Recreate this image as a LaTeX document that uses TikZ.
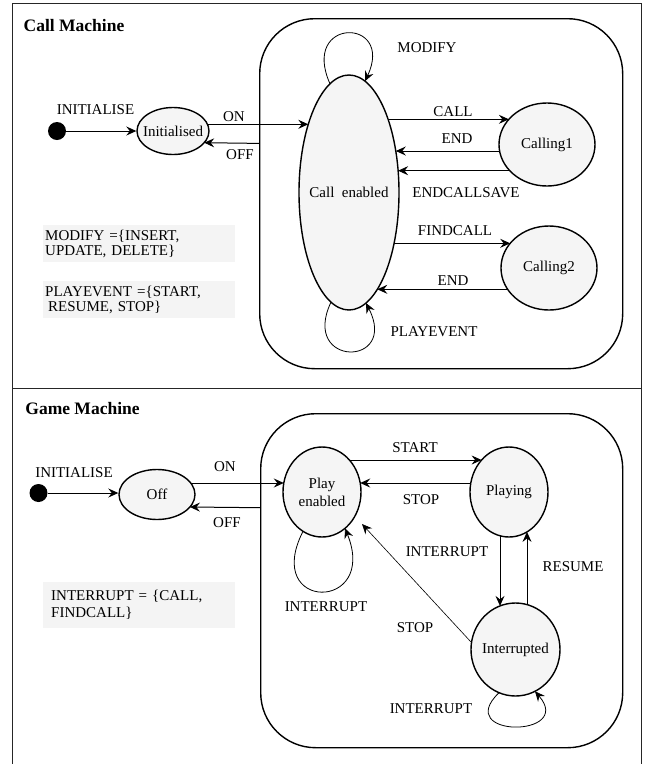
\documentclass[tikz,border=0pt]{standalone}
\usepackage{fontspec}
\setmainfont{Liberation Serif}
\usetikzlibrary{arrows.meta,calc,shapes.geometric}
\definecolor{stfill}{HTML}{F5F5F5}
\definecolor{boxfill}{HTML}{F4F4F4}
\begin{document}
\begin{tikzpicture}[x=1pt,y=-1pt,
  lbl/.style={font=\fontsize{15}{15}\selectfont, inner sep=0pt},
  ttl/.style={font=\bfseries\fontsize{17.5}{18}\selectfont, inner sep=0pt},
  state/.style={ellipse, draw, line width=1.4pt, fill=stfill, inner sep=0pt, font=\fontsize{15}{15}\selectfont},
  container/.style={draw, line width=1.4pt, rounded corners=55pt, anchor=north west, inner sep=0pt},
  initdot/.style={circle, fill=black, minimum size=18pt, inner sep=0pt},
  tr/.style={-{Stealth[length=10pt,width=9pt,inset=3.5pt]}, line width=1pt},
  thintr/.style={-{Stealth[length=10pt,width=9pt,inset=3.5pt]}, line width=0.6pt},
  loopy/.style={-{Stealth[length=10pt,width=9pt,inset=3.5pt]}, line width=0.8pt},
  defbox/.style={fill=boxfill, anchor=north west, minimum width=192pt, align=left, font=\fontsize{15}{15}\selectfont}
]
\useasboundingbox (0,0) rectangle (645,764);
% outer frame
\draw[line width=1pt, black!85] (12,764) -- (12,3) -- (641,3) -- (641,764);
\draw[line width=1pt, black!85] (12,388.5) -- (641,388.5);

% ---------- Call Machine ----------
\node[ttl] (t1) at (74,26) {Call Machine};
\node[container, minimum width=363pt, minimum height=350pt] (callbox) at (259,18) {};

\node[initdot] (dot1) at (57,131) {};
\node[state, minimum width=72pt, minimum height=47pt] (init) at (173,131) {\makebox[0pt]{Initialised}};
\node[state, minimum width=100pt, minimum height=235pt] (ce) at (349,192.5) {\makebox[0pt]{Call\ \ enabled}};
\node[state, minimum width=96pt, minimum height=83pt] (c1) at (547,144.5) {\makebox[0pt]{Calling1}};
\node[state, minimum width=96pt, minimum height=84pt] (c2) at (549,268) {\makebox[0pt]{Calling2}};

\node[defbox, minimum height=37pt, text width=188pt, inner xsep=2pt] (modbox) at (43,225) {MODIFY =\{INSERT,\\UPDATE, DELETE\}};
\node[defbox, minimum height=37pt, text width=188pt, inner xsep=2pt] (playbox) at (43,281) {PLAYEVENT =\{START,\\\hspace{3pt}RESUME, STOP\}};

\draw[tr] (dot1) -- (dot1 -| init.west);
\draw[tr] ($(init.center)+(34.5,-6.7)$) -- ($(ce.center)+(-40.7,-68.2)$);
\draw[tr] ($(callbox.west)+(0,-50.3)$) -- ($(init.center)+(31.2,11.7)$);
\draw[tr] ($(ce.center)+(39.1,-73.2)$) -- ($(c1.center)+(-38.1,-25.2)$);
\draw[tr] ($(c1.center)+(-47.4,6.5)$) -- ($(ce.center)+(46.8,-41.5)$);
\draw[tr] ($(c1.center)+(-37.2,26.2)$) -- ($(ce.center)+(49.1,-21.8)$);
\draw[tr] ($(ce.center)+(45.1,50.8)$) -- ($(c2.center)+(-38.8,-24.7)$);
\draw[tr] ($(c2.center)+(-41.4,21.3)$) -- ($(ce.center)+(28.3,96.8)$);
\draw[loopy] ($(ce.center)+(-19,-108.7)$) .. controls +(-30,-67) and +(30,-64) .. ($(ce.center)+(16,-111.3)$);
\draw[loopy] ($(ce.center)+(-18,109.6)$) .. controls +(-31,65.4) and +(33,64.5) .. ($(ce.center)+(17,110.5)$);

\node[lbl] (l1) at (95.5,110) {INITIALISE};
\node[lbl] (l2) at (234,117) {ON};
\node[lbl] (l3) at (240,155) {OFF};
\node[lbl] (l4) at (427,48) {MODIFY};
\node[lbl] (l5) at (453,112) {CALL};
\node[lbl] (l6) at (457,139) {END};
\node[lbl] (l7) at (466,193) {ENDCALLSAVE};
\node[lbl] (l8) at (455,231) {FINDCALL};
\node[lbl] (l9) at (453,281) {END};
\node[lbl] (l10) at (434,332) {PLAYEVENT};

% ---------- Game Machine ----------
\node[ttl] (t2) at (82.5,409) {Game Machine};
\node[container, minimum width=362pt, minimum height=334pt] (gamebox) at (260,413) {};

\node[initdot] (dot2) at (38.5,493) {};
\node[state, minimum width=76pt, minimum height=50pt] (off) at (157,494.5) {\makebox[0pt]{Off}};
\node[state, align=center, font=\fontsize{15}{18}\selectfont, minimum width=78pt, minimum height=90pt] (pe) at (322,492) {Play\\enabled};
\node[state, minimum width=78pt, minimum height=90pt] (pl) at (509,492) {\makebox[0pt]{Playing}};
\node[state, minimum width=89pt, minimum height=93pt] (it) at (515.5,649.5) {\makebox[0pt]{Interrupted}};

\node[defbox, minimum height=46pt, text width=176pt, inner xsep=8pt, font=\fontsize{15}{17}\selectfont] (intbox) at (43,582) {INTERRUPT = \{CALL,\\FINDCALL\}};

\draw[tr] (dot2) -- (dot2 -| off.west);
\draw[tr] ($(off.center)+(33.7,-11.5)$) -- ($(pe.center)+(-38.2,-9)$);
\draw[tr] ($(gamebox.west)+(0,-73)$) -- ($(off.center)+(32.9,12.5)$);
\draw[tr] ($(pe.center)+(27.4,-32)$) -- ($(pl.center)+(-27.4,-32)$);
\draw[tr] ($(pl.center)+(-38.2,-9)$) -- ($(pe.center)+(38.2,-9)$);
\draw[tr] ($(pl.center)+(-9,43.8)$) -- ($(it.center)+(-15.5,-43.6)$);
\draw[tr] ($(it.center)+(11.5,-44.9)$) -- ($(pl.center)+(18,39.9)$);
\draw[thintr] ($(it.center)+(-44.5,-7.5)$) -- ($(pe.center)+(40,32)$);
\draw[loopy] ($(pe.center)+(-19,39.3)$) .. controls +(-41,80.7) and +(34,83.7) .. ($(pe.center)+(23,36.3)$);
\draw[loopy] ($(it.center)+(-16.5,43.2)$) .. controls +(-47,45.3) and +(40,46.7) .. ($(it.center)+(19.5,41.8)$);

\node[lbl] (m1) at (74,473) {INITIALISE};
\node[lbl] (m2) at (225,467) {ON};
\node[lbl] (m3) at (227,523) {OFF};
\node[lbl] (m4) at (415,448) {START};
\node[lbl] (m5) at (421,500) {STOP};
\node[lbl] (m6) at (447,552) {INTERRUPT};
\node[lbl] (m7) at (573,567) {RESUME};
\node[lbl] (m8) at (415,628) {STOP};
\node[lbl] (m9) at (326,607) {INTERRUPT};
\node[lbl] (m10) at (431,709) {INTERRUPT};
\end{tikzpicture}
\end{document}
